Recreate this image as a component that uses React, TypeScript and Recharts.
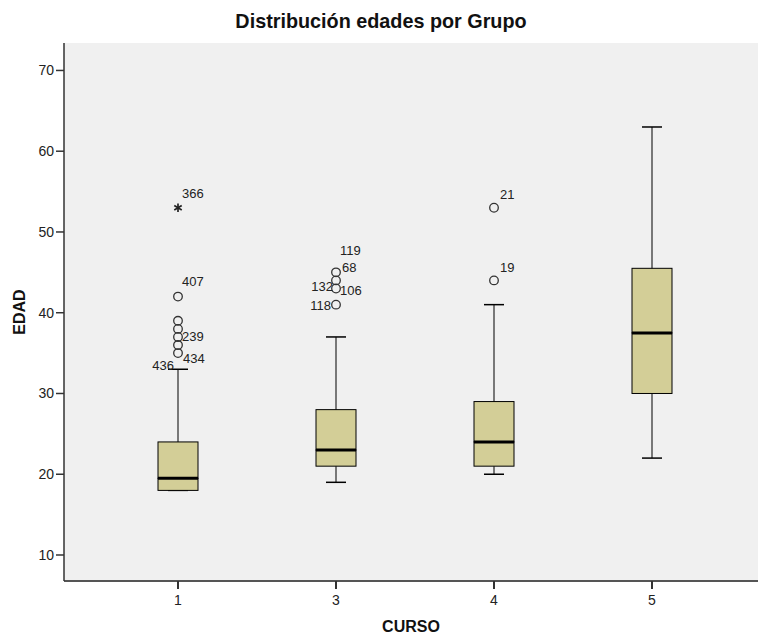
import React from "react";
import { ComposedChart, Bar, Scatter, XAxis, YAxis, CartesianGrid } from "recharts";

// ---------- data ----------
const categories = ["1", "3", "4", "5"];
const whiskerLow = [18, 19, 20, 22];
const q1 = [18, 21, 21, 30];
const median = [19.5, 23, 24, 37.5];
const q3 = [24, 28, 29, 45.5];
const whiskerHigh = [33, 37, 41, 63];
const yTicks = [10, 20, 30, 40, 50, 60, 70];

// outliers (group index into categories, value, extreme?, case numbers)
const outlierGroup = [0, 0, 0, 0, 0, 0, 0, 1, 1, 1, 1, 2, 2];
const outlierValue = [35, 36, 37, 38, 39, 42, 53, 41, 43, 44, 45, 44, 53];
const outlierExtreme = [false, false, false, false, false, false, true, false, false, false, false, false, false];
const outlierCases: string[][] = [
  ["434", "436"], [], ["239"], [], [], ["407"], ["366"],
  ["118"], ["106"], ["132"], ["119", "68"],
  ["19"], ["21"],
];

// ---------- styles ----------
const FONT = "'Liberation Sans', Arial, Helvetica, sans-serif";
const BOX_FILL = "#D3CE97";
const PLOT_BG = "#F0F0F0";
const CAP_HALF = 10;

// label placement per case id (dx from point, dy of text center from point, anchor)
const labelPlace: Record<string, { dx: number; dy: number; anchor: "start" | "end" }> = {
  "366": { dx: 4, dy: -14, anchor: "start" },
  "407": { dx: 4, dy: -15, anchor: "start" },
  "239": { dx: 4, dy: 0, anchor: "start" },
  "434": { dx: 5, dy: 5, anchor: "start" },
  "436": { dx: -4, dy: 12, anchor: "end" },
  "119": { dx: 4, dy: -22, anchor: "start" },
  "68": { dx: 6, dy: -5, anchor: "start" },
  "132": { dx: -3, dy: 6, anchor: "end" },
  "106": { dx: 4, dy: 2, anchor: "start" },
  "118": { dx: -5, dy: 1, anchor: "end" },
  "21": { dx: 6, dy: -13, anchor: "start" },
  "19": { dx: 6, dy: -13, anchor: "start" },
};

const boxRows = categories.map((cat, i) => ({
  cat,
  base: whiskerLow[i],
  lowW: q1[i] - whiskerLow[i],
  lowBox: median[i] - q1[i],
  highBox: q3[i] - median[i],
  highW: whiskerHigh[i] - q3[i],
}));

const outlierRows = outlierValue.map((v, i) => ({
  x: outlierGroup[i],
  y: v,
  extreme: outlierExtreme[i],
  cases: outlierCases[i],
}));

const BaseShape = () => <g />;

const LowWhisker = (p: any) => {
  const cx = p.x + p.width / 2;
  const yb = p.y + p.height;
  return (
    <g>
      <line x1={cx} y1={p.y} x2={cx} y2={yb} stroke="#000" strokeWidth={1} />
      <line x1={cx - CAP_HALF} y1={yb} x2={cx + CAP_HALF} y2={yb} stroke="#000" strokeWidth={1.5} />
    </g>
  );
};

const HighWhisker = (p: any) => {
  const cx = p.x + p.width / 2;
  return (
    <g>
      <line x1={cx} y1={p.y} x2={cx} y2={p.y + p.height} stroke="#000" strokeWidth={1} />
      <line x1={cx - CAP_HALF} y1={p.y} x2={cx + CAP_HALF} y2={p.y} stroke="#000" strokeWidth={1.5} />
    </g>
  );
};

const LowBox = (p: any) => (
  <rect x={p.x} y={p.y} width={p.width} height={p.height} fill={BOX_FILL} stroke="#000" strokeWidth={1} />
);

const HighBox = (p: any) => {
  const yb = p.y + p.height;
  return (
    <g>
      <rect x={p.x} y={p.y} width={p.width} height={p.height} fill={BOX_FILL} stroke="#000" strokeWidth={1} />
      <line x1={p.x} y1={yb} x2={p.x + p.width} y2={yb} stroke="#000" strokeWidth={3} />
    </g>
  );
};

const OutlierShape = (p: any) => {
  const { cx, cy, payload } = p;
  if (cx == null || cy == null) return <g />;
  const r = 4.3;
  const mark = payload.extreme ? (
    <g stroke="#222" strokeWidth={1.7}>
      <line x1={cx} y1={cy - r} x2={cx} y2={cy + r} />
      <line x1={cx - r * 0.87} y1={cy - r * 0.5} x2={cx + r * 0.87} y2={cy + r * 0.5} />
      <line x1={cx - r * 0.87} y1={cy + r * 0.5} x2={cx + r * 0.87} y2={cy - r * 0.5} />
    </g>
  ) : (
    <circle cx={cx} cy={cy} r={r} fill="none" stroke="#333" strokeWidth={1.3} />
  );
  return (
    <g>
      {mark}
      {(payload.cases as string[]).map((c) => {
        const pl = labelPlace[c];
        return (
          <text key={c} x={cx + pl.dx} y={cy + pl.dy + 4.5} textAnchor={pl.anchor}
            fontSize={13} fontFamily={FONT} fill="#222">{c}</text>
        );
      })}
    </g>
  );
};

export default function App() {
  return (
    <div style={{ width: 758, height: 634, overflow: "hidden", position: "relative" }}>
      <style>{"html, body { margin: 0; padding: 0; overflow: hidden; }"}</style>
      <div style={{ position: "absolute", left: 8, top: 8, width: 790, height: 626 }}>
        <ComposedChart width={790} height={626} data={boxRows}
          margin={{ top: 35, right: 0, bottom: 0, left: 0 }}>
          <CartesianGrid horizontal={false} vertical={false} fill={PLOT_BG} />
          <XAxis dataKey="cat" type="category" padding={{ left: 35, right: 67 }} height={53}
            tickSize={8} tickMargin={6} interval={0}
            axisLine={{ stroke: "#555", strokeWidth: 2 }}
            tickLine={{ stroke: "#333", strokeWidth: 2 }}
            tick={{ fill: "#222", fontSize: 14, fontFamily: FONT }} />
          <XAxis xAxisId="n" dataKey="x" orientation="top" type="number" domain={[-0.7215, 3.924]}
            allowDataOverflow height={0} tick={false} tickLine={false}
            axisLine={{ stroke: "#333", strokeWidth: 1.2 }} />
          <YAxis type="number" domain={[6.78, 73.4]} allowDataOverflow ticks={yTicks} interval={0}
            width={56} tickSize={8}
            axisLine={{ stroke: "#333", strokeWidth: 1.5 }}
            tickLine={{ stroke: "#333", strokeWidth: 1.5 }}
            tick={{ fill: "#222", fontSize: 14, fontFamily: FONT }} />
          <Bar dataKey="base" stackId="b" barSize={40} shape={BaseShape} isAnimationActive={false} />
          <Bar dataKey="lowW" stackId="b" barSize={40} shape={LowWhisker} isAnimationActive={false} />
          <Bar dataKey="lowBox" stackId="b" barSize={40} shape={LowBox} isAnimationActive={false} />
          <Bar dataKey="highBox" stackId="b" barSize={40} shape={HighBox} isAnimationActive={false} />
          <Bar dataKey="highW" stackId="b" barSize={40} shape={HighWhisker} isAnimationActive={false} />
          <Scatter data={outlierRows} dataKey="y" xAxisId="n" shape={OutlierShape} isAnimationActive={false} />
        </ComposedChart>
        <svg width={750} height={626} style={{ position: "absolute", left: 0, top: 0, pointerEvents: "none" }}>
          <text x={373} y={20} textAnchor="middle" fontSize={19.8} fontWeight="bold" fontFamily={FONT} fill="#111">
            Distribución edades por Grupo
          </text>
          <text x={403} y={624} textAnchor="middle" fontSize={16} fontWeight="bold" fontFamily={FONT} fill="#111">
            CURSO
          </text>
          <text transform="translate(17,304) rotate(-90)" textAnchor="middle" fontSize={16} fontWeight="bold"
            fontFamily={FONT} fill="#111">
            EDAD
          </text>
        </svg>
      </div>
    </div>
  );
}
